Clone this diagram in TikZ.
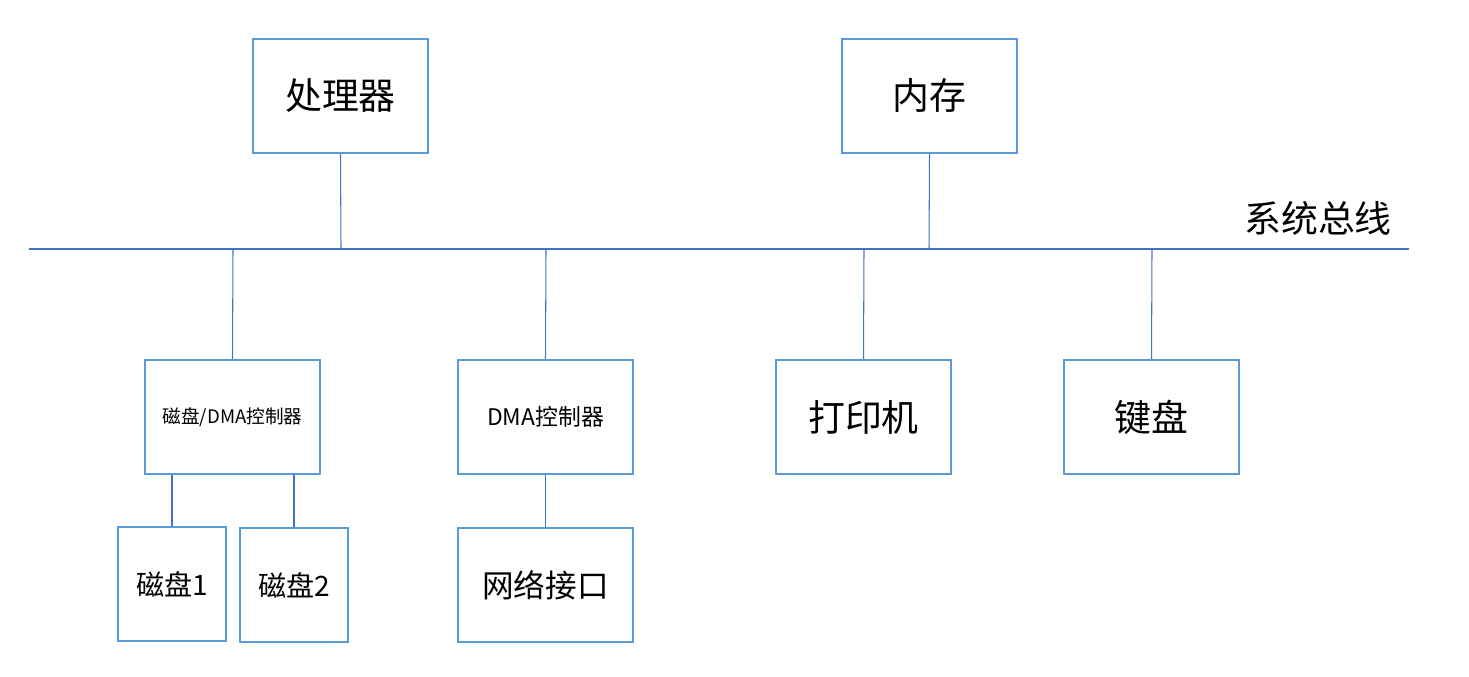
\documentclass[tikz,border=0pt]{standalone}
\usepackage{fontspec}
\setmainfont{Noto Sans CJK SC}
\definecolor{boxblue}{RGB}{91,155,213}
\definecolor{linkblue}{RGB}{68,114,196}
\tikzset{
  unit/.style={draw=boxblue, line width=1.2pt, minimum width=3.5cm, minimum height=2.28cm, inner sep=0pt},
  smallunit/.style={unit, minimum width=2.16cm},
  link/.style={draw=linkblue, line width=0.6pt}
}
\begin{document}
\begin{tikzpicture}[x=0.02cm, y=-0.02cm]
    \useasboundingbox (0,0) rectangle (1469,676);
    % Top units
    \node[unit, font=\fontsize{21}{24}\selectfont] (cpu) at (340.5,96) {处理器};
    \node[unit, font=\fontsize{21}{24}\selectfont] (mem) at (929.5,96) {内存};
    % System bus
    \coordinate (busL) at (29,249); \coordinate (busR) at (1409,249);
    \draw[link] (busL) -- (busR);
    \node[font=\fontsize{21}{24}\selectfont] (buslabel) at (1318,218) {系统总线};
    % Bus taps
    \coordinate (tcpu) at (341,249); \coordinate (tmem) at (929,249);
    \coordinate (tdc) at (233,249); \coordinate (tdma) at (546,249);
    \coordinate (tprn) at (864,249); \coordinate (tkbd) at (1152,249);
    % Lower units
    \node[unit, font=\fontsize{10.6}{12}\selectfont] (diskctl) at (232.5,417) {磁盘/DMA控制器};
    \node[unit, font=\fontsize{13}{15}\selectfont] (dma) at (545.5,417) {DMA控制器};
    \node[unit, font=\fontsize{21}{24}\selectfont] (prn) at (863.5,417) {打印机};
    \node[unit, font=\fontsize{21}{24}\selectfont] (kbd) at (1151.5,417) {键盘};
    % Devices
    \node[smallunit, font=\fontsize{16}{19}\selectfont] (disk1) at (172,584) {磁盘1};
    \node[smallunit, font=\fontsize{16}{19}\selectfont] (disk2) at (294,585) {磁盘2};
    \node[unit, font=\fontsize{18}{21}\selectfont] (net) at (545.5,585) {网络接口};
    % Connections
    \draw[link] (cpu.south) -- (tcpu);
    \draw[link] (mem.south) -- (tmem);
    \draw[link] (tdc) -- (diskctl.north);
    \draw[link] (tdma) -- (dma.north);
    \draw[link] (tprn) -- (prn.north);
    \draw[link] (tkbd) -- (kbd.north);
    \draw[link] (disk1.north) -- (disk1.north |- diskctl.south);
    \draw[link] (disk2.north) -- (disk2.north |- diskctl.south);
    \draw[link] (dma.south) -- (net.north);
\end{tikzpicture}
\end{document}
